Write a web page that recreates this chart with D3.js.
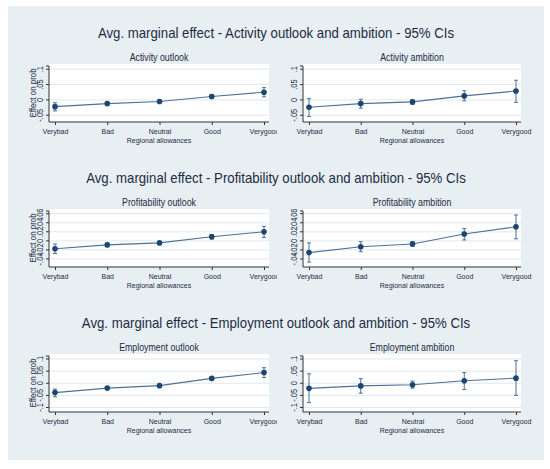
<!DOCTYPE html>
<html>
<head>
<meta charset="utf-8">
<script src="https://cdn.jsdelivr.net/npm/d3@7"></script>
<style>
  body { margin: 0; background: #fff; }
  svg { display: block; }
  text { font-family: "Liberation Sans", Arial, sans-serif; fill: #1c2b45; }
</style>
</head>
<body>
<svg width="550" height="469"></svg>
<script>
// categories and titles
const categories = ["Verybad", "Bad", "Neutral", "Good", "Verygood"];
const rowTitles = [
    "Avg. marginal effect - Activity outlook and ambition - 95% CIs",
    "Avg. marginal effect - Profitability outlook and ambition - 95% CIs",
    "Avg. marginal effect - Employment outlook and ambition - 95% CIs"
];
const panelTitles = [
    ["Activity outlook", "Activity ambition"],
    ["Profitability outlook", "Profitability ambition"],
    ["Employment outlook", "Employment ambition"]
];

// y ticks per row
const activityTicks = [-0.05, 0, 0.05, 0.1];
const activityTickLabels = ["-.05", "0", ".05", ".1"];
const profitTicks = [-0.04, -0.02, 0, 0.02, 0.04, 0.06];
const profitTickLabels = ["-.04", "-.02", "0", ".02", ".04", ".06"];
const employTicks = [-0.1, -0.05, 0, 0.05, 0.1];
const employTickLabels = ["-.1", "-.05", "0", ".05", ".1"];

// estimates and 95% CIs
const actOutMean = [-0.022, -0.012, -0.005, 0.011, 0.025];
const actOutLow = [-0.036, -0.017, -0.009, 0.005, 0.010];
const actOutHigh = [-0.009, -0.007, -0.001, 0.017, 0.040];

const actAmbMean = [-0.024, -0.012, -0.0065, 0.013, 0.029];
const actAmbLow = [-0.054, -0.027, -0.014, -0.003, -0.008];
const actAmbHigh = [0.004, 0.002, 0.000, 0.030, 0.064];

const profOutMean = [-0.0174, -0.009, -0.0045, 0.009, 0.020];
const profOutLow = [-0.028, -0.013, -0.0075, 0.004, 0.0075];
const profOutHigh = [-0.007, -0.005, -0.0015, 0.014, 0.032];

const profAmbMean = [-0.026, -0.013, -0.007, 0.015, 0.031];
const profAmbLow = [-0.047, -0.024, -0.012, 0.002, 0.0045];
const profAmbHigh = [-0.0045, -0.002, -0.0015, 0.027, 0.057];

const empOutMean = [-0.0386, -0.020, -0.010, 0.020, 0.044];
const empOutLow = [-0.056, -0.025, -0.015, 0.014, 0.023];
const empOutHigh = [-0.024, -0.015, -0.005, 0.026, 0.064];

const empAmbMean = [-0.021, -0.011, -0.006, 0.010, 0.021];
const empAmbLow = [-0.080, -0.041, -0.020, -0.026, -0.050];
const empAmbHigh = [0.039, 0.019, 0.009, 0.044, 0.093];

const rows = [
    { ticks: activityTicks, labels: activityTickLabels, domain: [-0.072, 0.117],
      panels: [[actOutMean, actOutLow, actOutHigh], [actAmbMean, actAmbLow, actAmbHigh]] },
    { ticks: profitTicks, labels: profitTickLabels, domain: [-0.0578, 0.0704],
      panels: [[profOutMean, profOutLow, profOutHigh], [profAmbMean, profAmbLow, profAmbHigh]] },
    { ticks: employTicks, labels: employTickLabels, domain: [-0.1186, 0.1206],
      panels: [[empOutMean, empOutLow, empOutHigh], [empAmbMean, empAmbLow, empAmbHigh]] }
];

const rowStep = 145;
const plotTop = 64;
const plotHeight = 58;
const colLeft = [49, 303];
const colRight = [269, 521];
const navy = "#1a476f";
const lineColor = "#4d7196";
const gridColor = "#e0e8ed";
const squeeze = 0.88; // the original type is set narrower than Liberation Sans

const svg = d3.select("svg");

svg.append("rect")
    .attr("x", 8).attr("y", 6)
    .attr("width", 536).attr("height", 454)
    .attr("fill", "#e8eff2");

svg.append("defs").append("clipPath")
    .attr("id", "leftClip")
    .append("rect")
    .attr("x", 0).attr("y", 0)
    .attr("width", 277).attr("height", 469);

rows.forEach((row, r) => {
    const dy = r * rowStep;

    svg.append("text")
        .attr("x", 276)
        .attr("y", 38 + dy)
        .attr("text-anchor", "middle")
        .style("font-size", "15px")
        .text(rowTitles[r]);

    row.panels.forEach((series, c) => {
        const [mean, low, high] = series;
        const g = svg.append("g");
        if (c === 0) g.attr("clip-path", "url(#leftClip)");

        const x0 = colLeft[c], x1 = colRight[c];
        const y0 = plotTop + dy, y1 = y0 + plotHeight;

        const x = d3.scalePoint().domain(categories).range([x0 + 6, x1 - 5]);
        const y = d3.scaleLinear().domain(row.domain).range([y1, y0]);

        // plot region
        g.append("rect")
            .attr("x", x0).attr("y", y0)
            .attr("width", x1 - x0).attr("height", y1 - y0)
            .attr("fill", "#fff");

        g.selectAll("line.grid")
            .data(row.ticks)
            .enter()
            .append("line")
            .attr("x1", x0).attr("x2", x1)
            .attr("y1", d => y(d)).attr("y2", d => y(d))
            .attr("stroke", gridColor)
            .attr("stroke-width", 1);

        g.append("text")
            .attr("x", (x0 + x1) / 2)
            .attr("y", y0 - 3)
            .attr("text-anchor", "middle")
            .style("font-size", "10px")
            .text(panelTitles[r][c]);

        // axes
        const yAxis = d3.axisLeft(y)
            .tickValues(row.ticks)
            .tickFormat((d, i) => row.labels[i])
            .tickSize(3)
            .tickPadding(2);
        const ya = g.append("g")
            .attr("transform", `translate(${x0},0)`)
            .call(yAxis);
        ya.select(".domain").attr("stroke", "#333").attr("d", `M-3,${y0 + 2}H0V${y1}`);
        ya.selectAll(".tick line").attr("stroke", "#333");
        ya.selectAll(".tick text")
            .attr("transform", function(d) { return `rotate(-90,${-6},${y(d)})`; })
            .attr("x", -6)
            .attr("y", d => y(d))
            .attr("dy", "0")
            .attr("text-anchor", "middle")
            .style("font-size", "8.5px")
            .style("font-family", "\"Liberation Sans\", Arial, sans-serif")
            .attr("fill", "#1c2b45");
        ya.selectAll(".tick").attr("transform", null);
        ya.selectAll(".tick line").attr("y1", d => y(d)).attr("y2", d => y(d));

        const xAxis = d3.axisBottom(x).tickSize(3).tickPadding(3);
        const xa = g.append("g")
            .attr("transform", `translate(0,${y1})`)
            .call(xAxis);
        xa.select(".domain").attr("stroke", "#333").attr("d", `M${x0},0H${x1}`);
        xa.selectAll(".tick line").attr("stroke", "#333");
        xa.selectAll(".tick text")
            .style("font-size", "8px")
            .style("font-family", "\"Liberation Sans\", Arial, sans-serif")
            .attr("fill", "#1c2b45");

        g.append("text")
            .attr("x", (x0 + x1) / 2)
            .attr("y", y1 + 21)
            .attr("text-anchor", "middle")
            .style("font-size", "8px")
            .text("Regional allowances");

        if (c === 0) {
            g.append("text")
                .attr("transform", `translate(36,${(y0 + y1) / 2}) rotate(-90)`)
                .attr("text-anchor", "middle")
                .style("font-size", "9px")
                .text("Effect on prob");
        }

        // line through estimates
        g.append("path")
            .datum(mean)
            .attr("fill", "none")
            .attr("stroke", lineColor)
            .attr("stroke-width", 1.1)
            .attr("d", d3.line().x((d, i) => x(categories[i])).y(d => y(d)));

        // CI bars
        const bars = g.selectAll("g.ci")
            .data(categories)
            .enter()
            .append("g");
        bars.append("line")
            .attr("x1", d => x(d)).attr("x2", d => x(d))
            .attr("y1", (d, i) => y(low[i])).attr("y2", (d, i) => y(high[i]))
            .attr("stroke", lineColor).attr("stroke-width", 1);
        bars.append("line")
            .attr("x1", d => x(d) - 2).attr("x2", d => x(d) + 2)
            .attr("y1", (d, i) => y(low[i])).attr("y2", (d, i) => y(low[i]))
            .attr("stroke", lineColor).attr("stroke-width", 1);
        bars.append("line")
            .attr("x1", d => x(d) - 2).attr("x2", d => x(d) + 2)
            .attr("y1", (d, i) => y(high[i])).attr("y2", (d, i) => y(high[i]))
            .attr("stroke", lineColor).attr("stroke-width", 1);

        g.selectAll("circle.pt")
            .data(categories)
            .enter()
            .append("circle")
            .attr("cx", d => x(d))
            .attr("cy", (d, i) => y(mean[i]))
            .attr("r", 2.8)
            .attr("fill", navy);
    });
});

// narrow all the type a little to match the original face
svg.selectAll("text").each(function() {
    const w = this.getComputedTextLength();
    d3.select(this)
        .attr("textLength", w * squeeze)
        .attr("lengthAdjust", "spacingAndGlyphs");
});
</script>
</body>
</html>
